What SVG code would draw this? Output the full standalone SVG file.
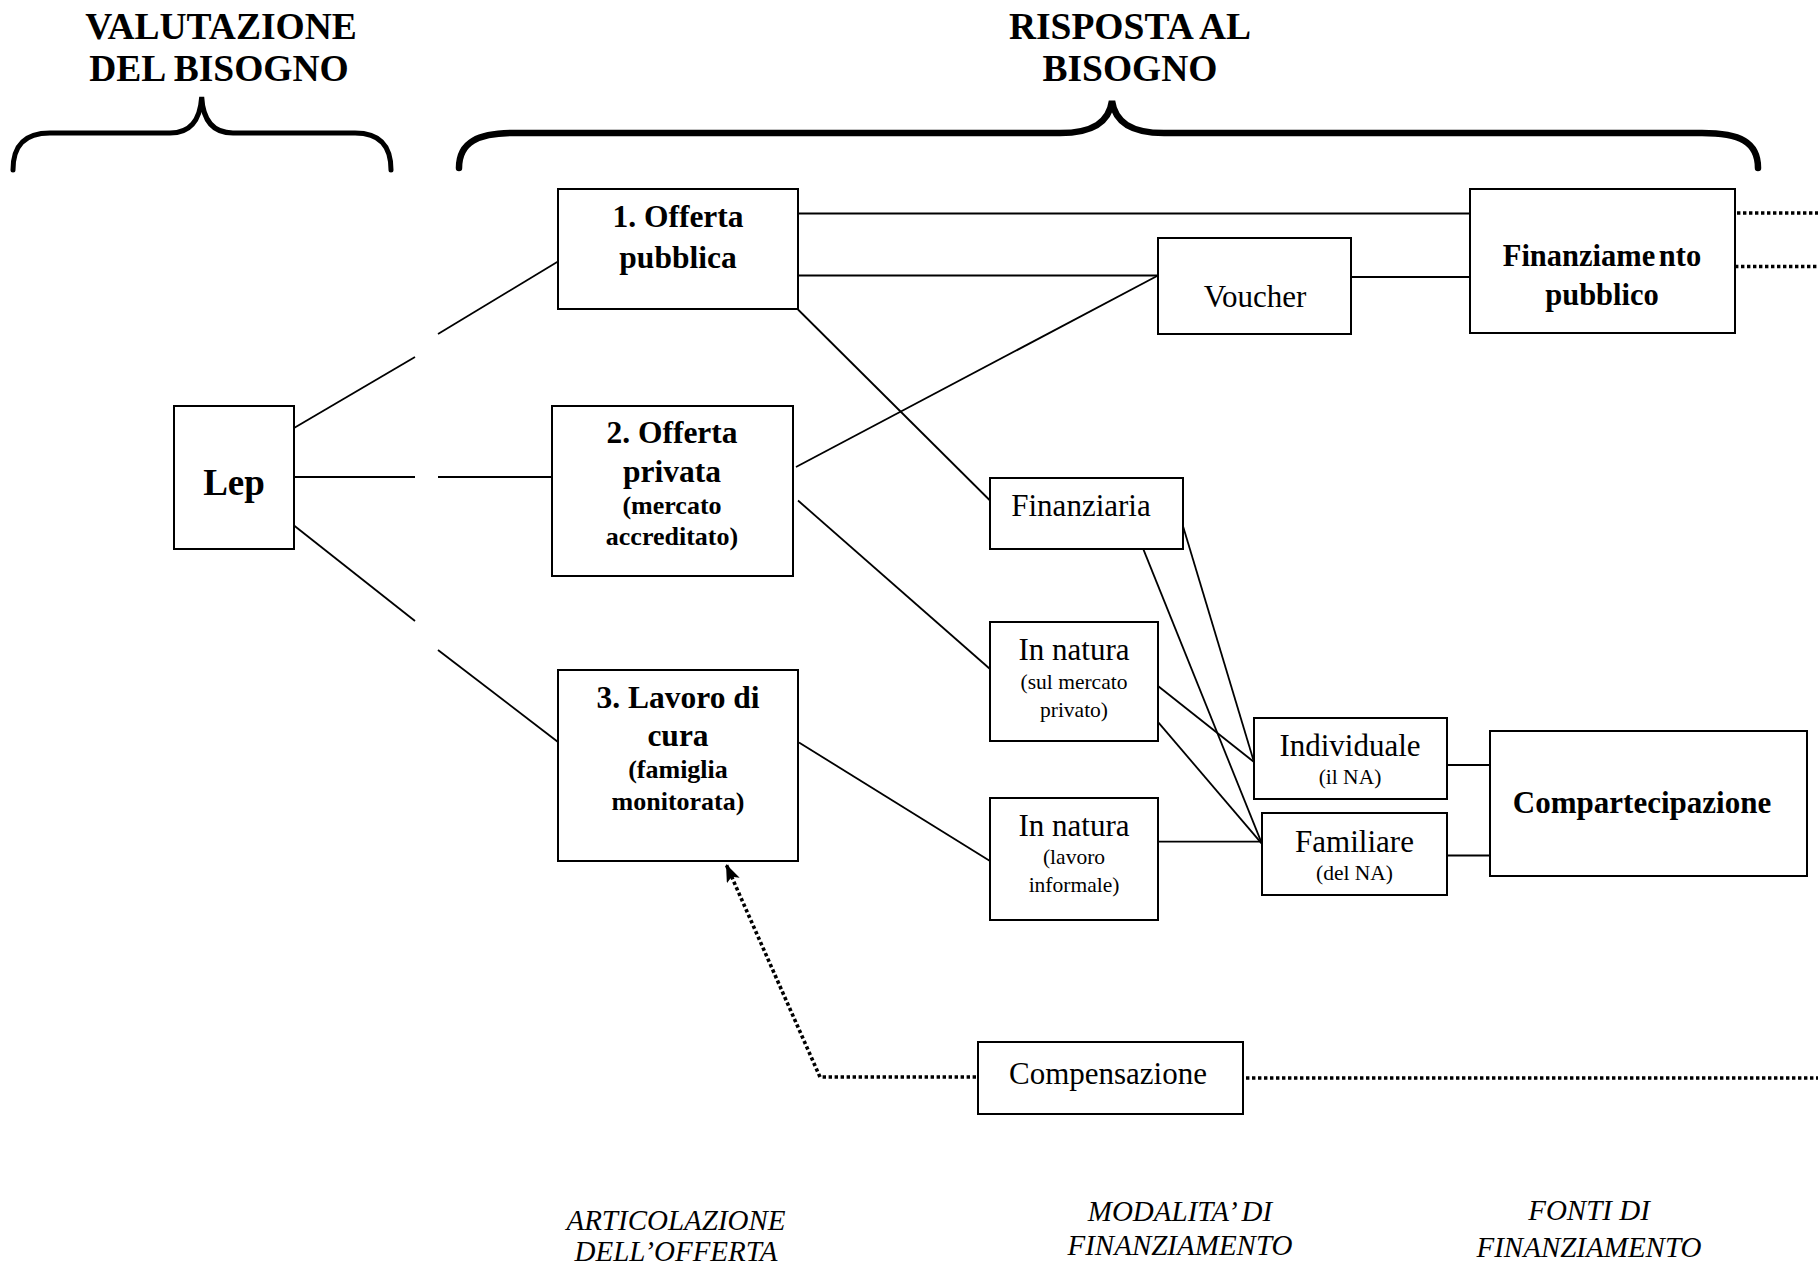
<svg xmlns="http://www.w3.org/2000/svg" width="1818" height="1265" viewBox="0 0 1818 1265">
<defs>
<style>
.box{fill:#fff;stroke:#000;stroke-width:2}
.ln{stroke:#000;stroke-width:1.8;fill:none}
.dot{stroke:#000;stroke-width:3.6;fill:none;stroke-dasharray:3.4 2.6}
.brace{stroke:#000;fill:none;stroke-linecap:round}
text{font-family:"Liberation Serif","Times New Roman",serif;fill:#000;text-anchor:middle}
.title{font-size:37.5px;font-weight:bold}
.b31{font-size:31.5px;font-weight:bold}
.b26{font-size:26px;font-weight:bold}
.r31{font-size:31px}
.r22{font-size:21.5px}
.it{font-size:29px;font-style:italic}
</style>
<marker id="arrow" markerUnits="userSpaceOnUse" markerWidth="20" markerHeight="16" refX="18" refY="7" orient="auto">
<path d="M0,0 L18,7 L0,14 L4,7 z" fill="#000"/>
</marker>
</defs>
<rect width="1818" height="1265" fill="#fff"/>

<g id="headers">
<text class="title" x="221" y="39">VALUTAZIONE</text>
<text class="title" x="219" y="81">DEL BISOGNO</text>
<path class="brace" stroke-width="5" d="M13,170 C13,146 24,133 50,133 L170,133 C190,133 200,121 201.7,97 C203,121 213,133 233,133 L355,133 C380,133 391,146 391,170"/>
<text class="title" x="1130" y="39">RISPOSTA AL</text>
<text class="title" x="1130" y="81">BISOGNO</text>
<path class="brace" stroke-width="6.5" d="M459,168 C459,142 478,133 515,133 L1060,133 C1093,133 1109,122 1112,101 C1115,122 1131,133 1164,133 L1702,133 C1740,133 1758,142 1758,168"/>
</g>

<g id="connectors">
<line class="ln" x1="294" y1="428" x2="415" y2="357"/>
<line class="ln" x1="438" y1="334" x2="558" y2="261.5"/>
<line class="ln" x1="294" y1="477" x2="415" y2="477"/>
<line class="ln" x1="438" y1="477" x2="552" y2="477"/>
<line class="ln" x1="294" y1="525.5" x2="415" y2="621"/>
<line class="ln" x1="438" y1="650" x2="558" y2="742"/>
<line class="ln" x1="798" y1="213.5" x2="1470" y2="213.5"/>
<line class="ln" x1="798" y1="275.5" x2="1158" y2="275.5"/>
<line class="ln" x1="798" y1="309.5" x2="990" y2="500.5"/>
<line class="ln" x1="796" y1="467" x2="1158" y2="275.5"/>
<line class="ln" x1="1351" y1="277" x2="1470" y2="277"/>
<line class="ln" x1="798" y1="500.5" x2="990" y2="669"/>
<line class="ln" x1="799" y1="742.5" x2="990" y2="861"/>
<line class="ln" x1="1182.5" y1="524.6" x2="1254" y2="762"/>
<line class="ln" x1="1143.3" y1="549.2" x2="1262" y2="843.8"/>
<line class="ln" x1="1158.3" y1="686.3" x2="1254" y2="762"/>
<line class="ln" x1="1158.3" y1="722.4" x2="1262" y2="843.8"/>
<line class="ln" x1="1158" y1="841.6" x2="1262" y2="841.6"/>
<line class="ln" x1="1447" y1="765" x2="1490" y2="765"/>
<line class="ln" x1="1447" y1="855.5" x2="1490" y2="855.5"/>
<line class="dot" x1="1737" y1="213" x2="1818" y2="213"/>
<line class="dot" x1="1735" y1="266.5" x2="1818" y2="266.5"/>
<line class="dot" x1="1246" y1="1078" x2="1818" y2="1078"/>
<polyline class="dot" points="976,1077 820,1077 726,864" marker-end="url(#arrow)"/>
</g>

<g id="lep">
<rect class="box" x="174" y="406" width="120" height="143"/>
<text x="234" y="495" style="font-size:37px;font-weight:bold">Lep</text>
</g>

<g id="offerta-pubblica">
<rect class="box" x="558" y="189" width="240" height="120"/>
<text class="b31" x="678" y="227">1. Offerta</text>
<text class="b31" x="678" y="268">pubblica</text>
</g>

<g id="offerta-privata">
<rect class="box" x="552" y="406" width="241" height="170"/>
<text class="b31" x="672" y="443">2. Offerta</text>
<text class="b31" x="672" y="482">privata</text>
<text class="b26" x="672" y="514">(mercato</text>
<text class="b26" x="672" y="545">accreditato)</text>
</g>

<g id="lavoro-di-cura">
<rect class="box" x="558" y="670" width="240" height="191"/>
<text class="b31" x="678" y="708">3. Lavoro di</text>
<text class="b31" x="678" y="746">cura</text>
<text class="b26" x="678" y="778">(famiglia</text>
<text class="b26" x="678" y="809.5">monitorata)</text>
</g>

<g id="voucher">
<rect class="box" x="1158" y="238" width="193" height="96"/>
<text class="r31" x="1255" y="307">Voucher</text>
</g>

<g id="finanziamento-pubblico">
<rect class="box" x="1470" y="189" width="265" height="144"/>
<text x="1602" y="266" style="font-size:30.5px;font-weight:bold;word-spacing:-4px">Finanziame nto</text>
<text x="1602" y="305" style="font-size:30.5px;font-weight:bold">pubblico</text>
</g>

<g id="finanziaria">
<rect class="box" x="990" y="478" width="193" height="71"/>
<text class="r31" x="1081" y="516">Finanziaria</text>
</g>

<g id="in-natura-mercato">
<rect class="box" x="990" y="622" width="168" height="119"/>
<text class="r31" x="1074" y="659.5">In natura</text>
<text class="r22" x="1074" y="688.5">(sul mercato</text>
<text class="r22" x="1074" y="716.5">privato)</text>
</g>

<g id="in-natura-lavoro">
<rect class="box" x="990" y="798" width="168" height="122"/>
<text class="r31" x="1074" y="836">In natura</text>
<text class="r22" x="1074" y="864">(lavoro</text>
<text class="r22" x="1074" y="891.5">informale)</text>
</g>

<g id="individuale">
<rect class="box" x="1254" y="718" width="193" height="81"/>
<text class="r31" x="1350" y="756">Individuale</text>
<text class="r22" x="1350" y="783.5">(il NA)</text>
</g>

<g id="familiare">
<rect class="box" x="1262" y="813" width="185" height="82"/>
<text class="r31" x="1354.5" y="852">Familiare</text>
<text class="r22" x="1354.5" y="879.5">(del NA)</text>
</g>

<g id="compartecipazione">
<rect class="box" x="1490" y="731" width="317" height="145"/>
<text class="b31" x="1642" y="813" style="font-size:31px">Compartecipazione</text>
</g>

<g id="compensazione">
<rect class="box" x="978" y="1042" width="265" height="72"/>
<text class="r31" x="1108" y="1084">Compensazione</text>
</g>

<g id="footer-labels">
<text class="it" x="676" y="1230">ARTICOLAZIONE</text>
<text class="it" x="676" y="1261">DELL’OFFERTA</text>
<text class="it" x="1180" y="1221">MODALITA’ DI</text>
<text class="it" x="1180" y="1255">FINANZIAMENTO</text>
<text class="it" x="1589" y="1220">FONTI DI</text>
<text class="it" x="1589" y="1257">FINANZIAMENTO</text>
</g>
</svg>
